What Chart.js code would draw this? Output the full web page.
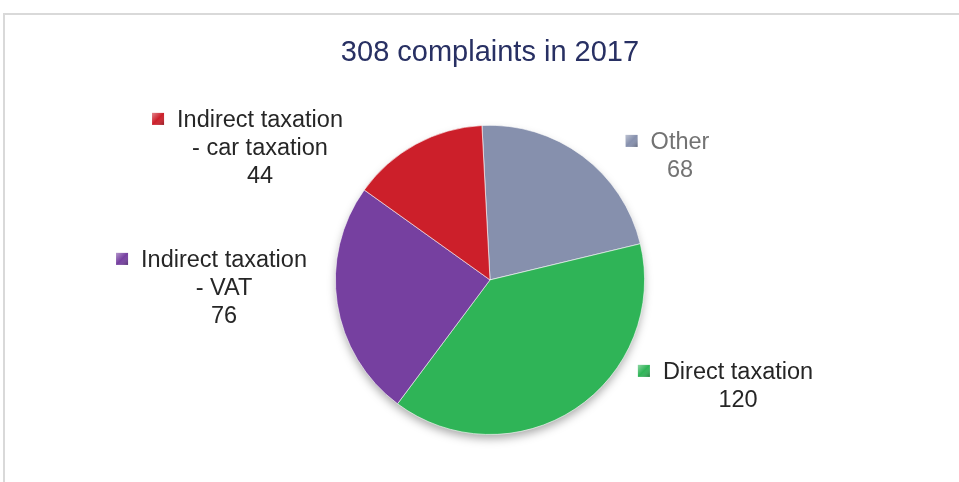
<!DOCTYPE html>
<html>
<head>
<meta charset="utf-8">
<script src="https://cdn.jsdelivr.net/npm/chart.js@4"></script>
<style>
  html, body { margin: 0; padding: 0; background: #fff; }
  #wrap { width: 959px; height: 482px; }
</style>
</head>
<body>
<div id="wrap"><canvas id="complaintsChart" width="959" height="482"></canvas></div>
<script>
// chart data
const categories = [
    ['Other'],
    ['Direct taxation'],
    ['Indirect taxation', '- VAT'],
    ['Indirect taxation', '- car taxation']
];
const complaints = [68, 120, 76, 44];
const sliceColors = ['#8690ad', '#2fb457', '#7640a0', '#cc1f2a'];
const labelColors = ['#737373', '#262626', '#262626', '#262626'];
const titleText = '308 complaints in 2017';

// where each label block sits, relative to the pie centre (text centre x, first baseline y)
const labelOffsets = [
    { dx: 190, dy: -131 },
    { dx: 248, dy: 99 },
    { dx: -266, dy: -13 },
    { dx: -230, dy: -153 }
];

const fontFamily = '"Liberation Sans", Arial, sans-serif';

// light frame + soft shadow under the pie
const backdrop = {
    id: 'backdrop',
    beforeDraw(chart) {
        const ctx = chart.ctx;
        ctx.save();
        ctx.strokeStyle = '#d9d9d9';
        ctx.lineWidth = 2;
        ctx.beginPath();
        ctx.moveTo(4, 482);
        ctx.lineTo(4, 14);
        ctx.lineTo(959, 14);
        ctx.stroke();
        ctx.restore();
    },
    beforeDatasetsDraw(chart) {
        const arc = chart.getDatasetMeta(0).data[0];
        if (!arc) return;
        const ctx = chart.ctx;
        ctx.save();
        ctx.shadowColor = 'rgba(0,0,0,0.35)';
        ctx.shadowBlur = 10;
        ctx.shadowOffsetY = 5;
        ctx.fillStyle = '#888';
        ctx.beginPath();
        ctx.arc(arc.x, arc.y, arc.outerRadius - 1, 0, Math.PI * 2);
        ctx.fill();
        ctx.restore();
    }
};

// labels with a small coloured square in front of the first line
const sliceLabels = {
    id: 'sliceLabels',
    afterDatasetsDraw(chart) {
        const meta = chart.getDatasetMeta(0);
        const ctx = chart.ctx;
        const lineH = 28;
        ctx.save();
        ctx.font = '23.5px ' + fontFamily;
        ctx.textAlign = 'center';
        ctx.textBaseline = 'alphabetic';
        meta.data.forEach(function (arc, i) {
            const cx = arc.x + labelOffsets[i].dx;
            const cy = arc.y + labelOffsets[i].dy;
            const lines = categories[i].concat([String(complaints[i])]);
            ctx.fillStyle = labelColors[i];
            lines.forEach(function (line, j) {
                ctx.fillText(line, cx, cy + j * lineH);
            });
            // marker
            const w = ctx.measureText(lines[0]).width;
            const mx = cx - w / 2 - 25;
            const my = cy - 14;
            const g = ctx.createLinearGradient(mx, my, mx + 12, my + 12);
            g.addColorStop(0, 'rgba(255,255,255,0.45)');
            g.addColorStop(0.5, 'rgba(255,255,255,0)');
            g.addColorStop(1, 'rgba(0,0,0,0.3)');
            ctx.fillStyle = sliceColors[i];
            ctx.fillRect(mx, my, 12, 12);
            ctx.fillStyle = g;
            ctx.fillRect(mx, my, 12, 12);
        });
        ctx.restore();
    }
};

const ctx = document.getElementById('complaintsChart').getContext('2d');
const complaintsChart = new Chart(ctx, {
    type: 'pie',
    data: {
        labels: categories,
        datasets: [{
            data: complaints,
            backgroundColor: sliceColors,
            borderColor: 'rgba(255,255,255,0.6)',
            borderWidth: 1
        }]
    },
    options: {
        responsive: false,
        animation: false,
        rotation: -3,
        layout: {
            padding: { left: 21, right: 0, top: 0, bottom: 47 }
        },
        plugins: {
            legend: { display: false },
            tooltip: { enabled: false },
            title: {
                display: true,
                text: titleText,
                color: '#283063',
                font: { family: fontFamily, size: 29, weight: 'normal' },
                padding: { top: 36, bottom: 54 }
            }
        }
    },
    plugins: [backdrop, sliceLabels]
});
</script>
</body>
</html>
